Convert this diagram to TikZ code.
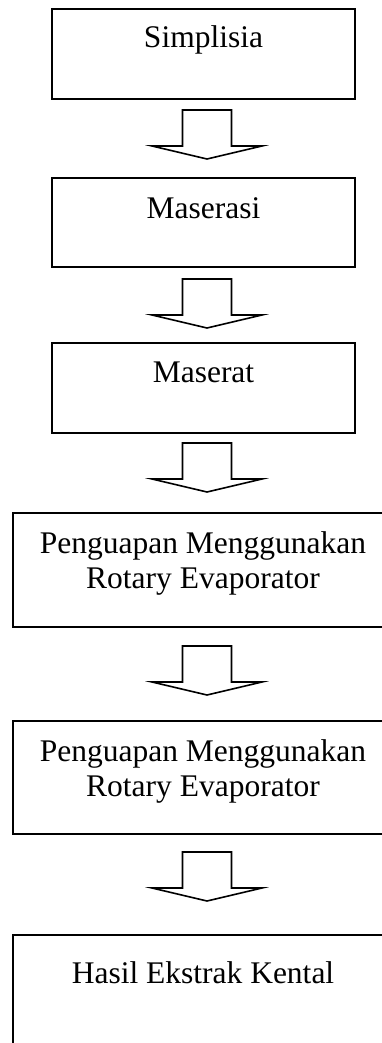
\documentclass[tikz,border=0pt]{standalone}
\usepackage{fontspec}
\setmainfont{Liberation Serif}
\usetikzlibrary{calc}
\tikzset{
  stepbox/.style={draw=black, line width=2pt, rectangle, inner sep=0pt},
  lbl/.style={font=\fontsize{31.5}{35}\selectfont, inner sep=0pt, align=center, anchor=base},
  arrowline/.style={draw=black, line width=1.6pt, line join=miter},
  blockarrow/.pic={
    \draw[arrowline] (-24.5,0) -- (24.5,0) -- (24.5,36) -- (55,36) -- (0,49)
      -- (-55,36) -- (-24.5,36) -- cycle;
  }
}
\begin{document}
\begin{tikzpicture}[x=1pt,y=-1pt]
  \useasboundingbox (0,0) rectangle (382,1043);
  \clip (0,0) rectangle (382,1043);
  % process boxes
  \node[stepbox, minimum width=303pt, minimum height=90pt] (b1) at (203.5,54) {};
  \node[stepbox, minimum width=303pt, minimum height=89pt] (b2) at (203.5,222.5) {};
  \node[stepbox, minimum width=303pt, minimum height=90pt] (b3) at (203.5,388) {};
  \node[stepbox, minimum width=380pt, minimum height=114pt] (b4) at (203,570) {};
  \node[stepbox, minimum width=380pt, minimum height=113pt] (b5) at (203,777.5) {};
  \node[stepbox, minimum width=380pt, minimum height=114pt] (b6) at (203,992) {};
  % box labels (base anchor of a two-line label sits on its last line)
  \node[lbl] (t1) at ($(b1.north)+(0,40)$) {Simplisia};
  \node[lbl] (t2) at ($(b2.north)+(0,41)$) {Maserasi};
  \node[lbl] (t3) at ($(b3.north)+(0,40)$) {Maserat};
  \node[lbl] (t4) at ($(b4.north)+(0,76)$) {Penguapan Menggunakan\\Rotary Evaporator};
  \node[lbl] (t5) at ($(b5.north)+(0,76)$) {Penguapan Menggunakan\\Rotary Evaporator};
  \node[lbl] (t6) at ($(b6.north)+(0,49)$) {Hasil Ekstrak Kental};
  % block arrows between the steps
  \pic at (207,110) {blockarrow};
  \pic at (207,279) {blockarrow};
  \pic at (207,443) {blockarrow};
  \pic at (207,646) {blockarrow};
  \pic at (207,852) {blockarrow};
\end{tikzpicture}
\end{document}
